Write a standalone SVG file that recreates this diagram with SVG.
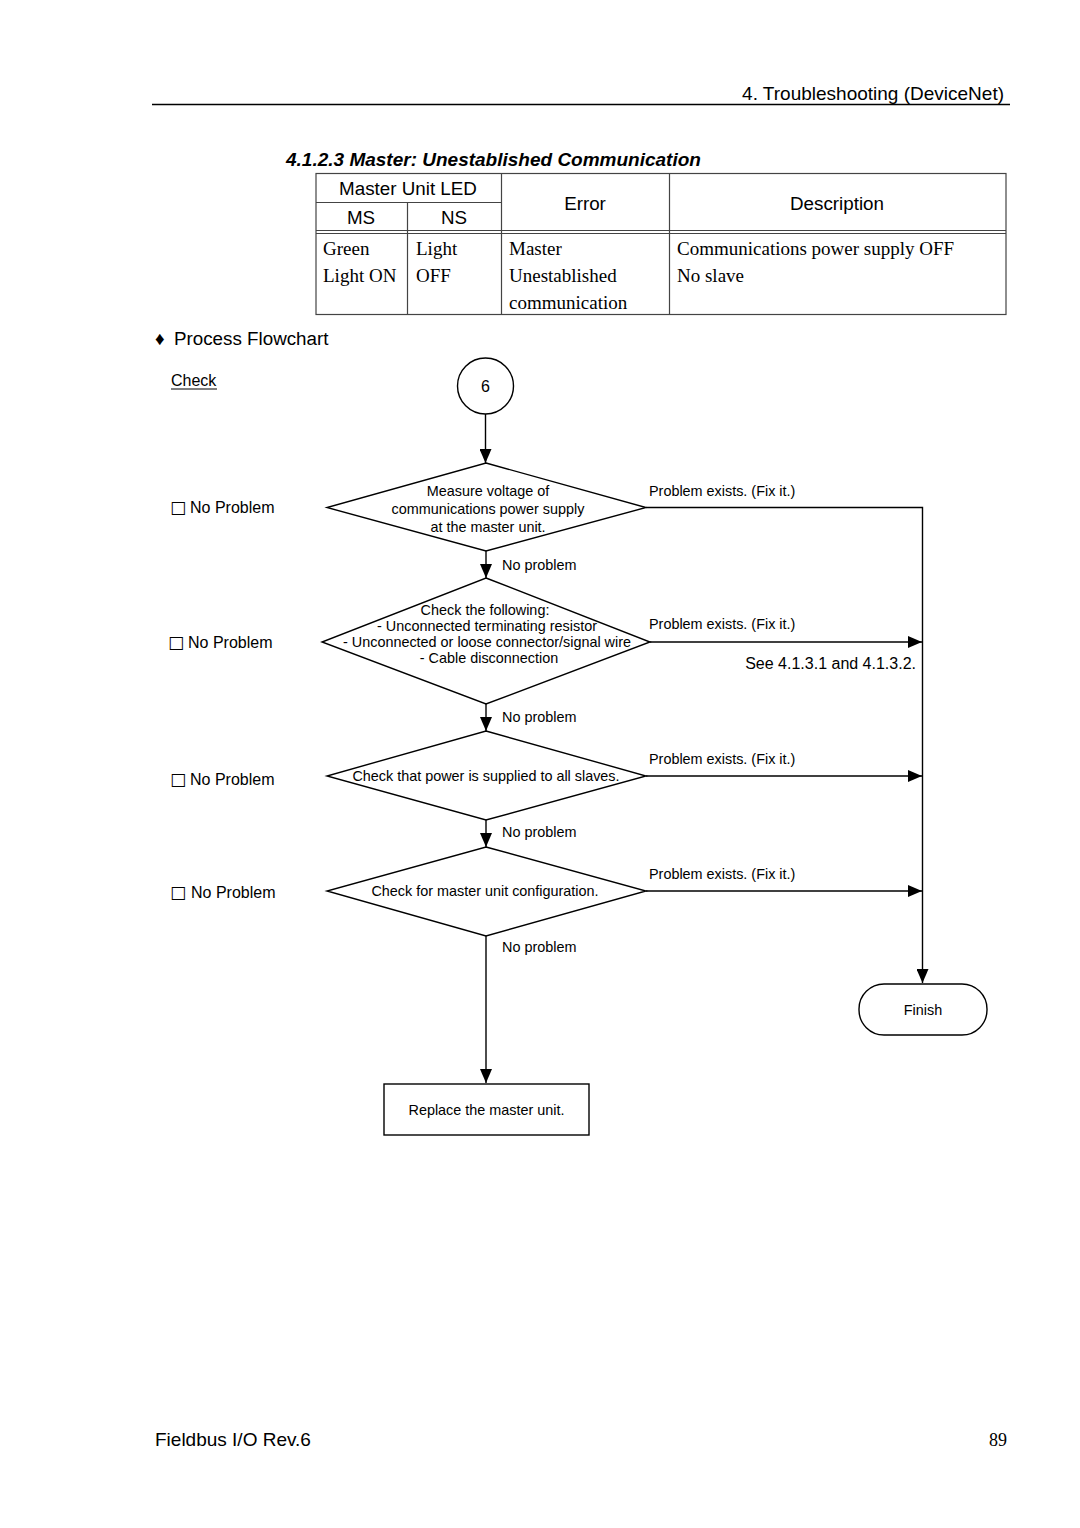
<svg xmlns="http://www.w3.org/2000/svg" width="1080" height="1528" viewBox="0 0 1080 1528">
<style>
.s{font-family:"Liberation Sans",Arial,sans-serif;fill:#000}
.r{font-family:"Liberation Serif","Times New Roman",serif;fill:#000}
.sm{font-size:14.4px}
.md{font-size:16px}
.lg{font-size:18.8px}
.bx{font-family:"DejaVu Sans",sans-serif;font-size:17px}
.tb{stroke:#444;stroke-width:1.2;fill:none}
.sh{fill:#fff;stroke:#000;stroke-width:1.4}
.ln{stroke:#000;stroke-width:1.4;fill:none}
</style>
<defs>
<marker id="ah" markerWidth="14" markerHeight="12" refX="14" refY="6" orient="auto" markerUnits="userSpaceOnUse">
<path d="M0,0 L14,6 L0,12 Z" fill="#000"/>
</marker>
</defs>
<rect width="1080" height="1528" fill="#fff"/>

<g id="header">
<text class="s" x="1004" y="100" font-size="19" text-anchor="end">4. Troubleshooting (DeviceNet)</text>
<line x1="152" y1="104.5" x2="1010" y2="104.5" stroke="#000" stroke-width="1.6"/>
<text class="s" x="286" y="166" font-size="19" font-weight="bold" font-style="italic">4.1.2.3 Master: Unestablished Communication</text>
</g>

<g id="table">
<rect class="tb" x="316" y="173.5" width="690" height="141"/>
<line class="tb" x1="316" y1="202.5" x2="501" y2="202.5"/>
<line class="tb" x1="316" y1="230.5" x2="1006" y2="230.5"/>
<line class="tb" x1="316" y1="233.5" x2="1006" y2="233.5"/>
<line class="tb" x1="407.5" y1="202.5" x2="407.5" y2="314.5"/>
<line class="tb" x1="501.5" y1="173.5" x2="501.5" y2="314.5"/>
<line class="tb" x1="669.5" y1="173.5" x2="669.5" y2="314.5"/>
<text class="s lg" x="408" y="195" text-anchor="middle">Master Unit LED</text>
<text class="s lg" x="361" y="224" text-anchor="middle">MS</text>
<text class="s lg" x="454" y="224" text-anchor="middle">NS</text>
<text class="s lg" x="585" y="210" text-anchor="middle">Error</text>
<text class="s lg" x="837" y="210" text-anchor="middle">Description</text>
<g class="r" font-size="19">
<text x="323" y="255">Green</text>
<text x="323" y="282">Light ON</text>
<text x="416" y="255">Light</text>
<text x="416" y="282">OFF</text>
<text x="509" y="255">Master</text>
<text x="509" y="282">Unestablished</text>
<text x="509" y="309">communication</text>
<text x="677" y="255">Communications power supply OFF</text>
<text x="677" y="282">No slave</text>
</g>
</g>

<g id="labels">
<text class="s lg" x="155" y="345">♦<tspan x="174">Process Flowchart</tspan></text>
<text class="s md" x="171" y="386">Check</text>
<line x1="171" y1="389" x2="217" y2="389" stroke="#000" stroke-width="1"/>
<g class="s md">
<text x="170" y="513"><tspan class="bx">□</tspan><tspan x="190">No Problem</tspan></text>
<text x="168" y="648"><tspan class="bx">□</tspan><tspan x="188">No Problem</tspan></text>
<text x="170" y="785"><tspan class="bx">□</tspan><tspan x="190">No Problem</tspan></text>
<text x="170" y="898"><tspan class="bx">□</tspan><tspan x="191">No Problem</tspan></text>
</g>
</g>

<g id="connectors">
<line class="ln" x1="485.5" y1="414" x2="485.5" y2="463" marker-end="url(#ah)"/>
<line class="ln" x1="486" y1="551" x2="486" y2="578" marker-end="url(#ah)"/>
<line class="ln" x1="486" y1="704" x2="486" y2="731" marker-end="url(#ah)"/>
<line class="ln" x1="486" y1="820" x2="486" y2="847" marker-end="url(#ah)"/>
<line class="ln" x1="486" y1="936" x2="486" y2="1083" marker-end="url(#ah)"/>
<polyline class="ln" points="646,507.5 922.5,507.5 922.5,983" marker-end="url(#ah)"/>
<line class="ln" x1="650" y1="642" x2="922" y2="642" marker-end="url(#ah)"/>
<line class="ln" x1="646" y1="776" x2="922" y2="776" marker-end="url(#ah)"/>
<line class="ln" x1="646" y1="891" x2="922" y2="891" marker-end="url(#ah)"/>
<g class="s sm">
<text x="649" y="496">Problem exists. (Fix it.)</text>
<text x="502" y="570">No problem</text>
<text x="649" y="629">Problem exists. (Fix it.)</text>
<text x="502" y="722">No problem</text>
<text x="649" y="764">Problem exists. (Fix it.)</text>
<text x="502" y="837">No problem</text>
<text x="649" y="879">Problem exists. (Fix it.)</text>
<text x="502" y="952">No problem</text>
</g>
<text class="s md" x="916" y="669" text-anchor="end">See 4.1.3.1 and 4.1.3.2.</text>
</g>

<g id="start">
<circle class="sh" cx="485.5" cy="386" r="28"/>
<text class="s md" x="485.5" y="392" text-anchor="middle">6</text>
</g>

<g id="d1">
<polygon class="sh" points="486,463 646,507.5 486,551 327,507.5"/>
<g class="s sm" text-anchor="middle">
<text x="488" y="496">Measure voltage of</text>
<text x="488" y="514">communications power supply</text>
<text x="488" y="532">at the master unit.</text>
</g>
</g>

<g id="d2">
<polygon class="sh" points="486,578 650,642 486,704 322,642"/>
<g class="s sm" text-anchor="middle">
<text x="485" y="615">Check the following:</text>
<text x="487" y="631">- Unconnected terminating resistor</text>
<text x="487" y="647">- Unconnected or loose connector/signal wire</text>
<text x="489" y="663">- Cable disconnection</text>
</g>
</g>

<g id="d3">
<polygon class="sh" points="486,731 646,776 486,820 327,776"/>
<text class="s sm" x="486" y="781" text-anchor="middle">Check that power is supplied to all slaves.</text>
</g>

<g id="d4">
<polygon class="sh" points="486,847 646,891 486,936 327,891"/>
<text class="s sm" x="485" y="896" text-anchor="middle">Check for master unit configuration.</text>
</g>

<g id="finish">
<rect class="sh" x="859" y="984" width="128" height="51" rx="25" ry="25"/>
<text class="s sm" x="923" y="1015" text-anchor="middle">Finish</text>
</g>

<g id="replace">
<rect class="sh" x="384" y="1084" width="205" height="51"/>
<text class="s sm" x="486.5" y="1115" text-anchor="middle">Replace the master unit.</text>
</g>

<g id="footer">
<text class="s" x="155" y="1446" font-size="19">Fieldbus I/O Rev.6</text>
<text class="r" x="1007" y="1446" font-size="18" text-anchor="end">89</text>
</g>
</svg>
